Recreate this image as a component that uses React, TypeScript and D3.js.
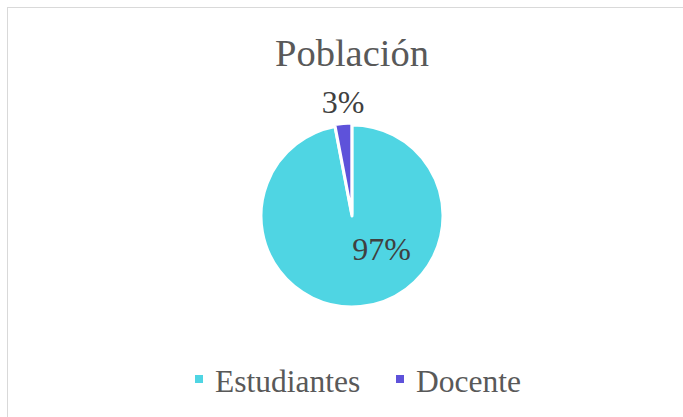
import React from "react";
import * as d3 from "d3";

const categories = ["Estudiantes", "Docente"];
const values = [97, 3];
const labels = ["97%", "3%"];
const colors = ["#4FD5E3", "#5E52DA"];

const W = 683;
const H = 417;

export default function App() {
  const cx = 352;
  const cy = 216;
  const r = 91;
  const pie = d3.pie<number>().sort(null).value((d) => d)(values);
  const arc = d3.arc<d3.PieArcDatum<number>>().innerRadius(0).outerRadius(r);
  const explode = [0, 2];
  const labelPos = [
    [29.5, 44],
    [-9, -103],
  ];
  const font = "Liberation Serif";
  return (
    <div style={{ position: "absolute", left: 0, top: 0 }}>
      <svg width={W} height={H} fontFamily={font}>
        <rect x={7.5} y={7.5} width={720} height={440} fill="#fff" stroke="#D9D9D9" strokeWidth={1} />
        <text x={cx} y={66} textAnchor="middle" fontFamily={font} fontSize={38.5} fill="#595959">
          Población
        </text>
        <g transform={`translate(${cx},${cy})`}>
          {pie.map((d, i) => {
            const mid = (d.startAngle + d.endAngle) / 2;
            const dx = Math.sin(mid) * explode[i];
            const dy = -Math.cos(mid) * explode[i];
            return (
              <path
                key={i}
                d={arc(d) || ""}
                transform={`translate(${dx},${dy})`}
                fill={colors[i]}
                stroke="#fff"
                strokeWidth={3}
                strokeLinejoin="round"
              />
            );
          })}
          {pie.map((d, i) => (
            <text
              key={"l" + i}
              x={labelPos[i][0]}
              y={labelPos[i][1]}
              textAnchor="middle"
              fontFamily={font}
              fontSize={32}
              fill="#404040"
            >
              {labels[i]}
            </text>
          ))}
        </g>
        <g>
          {categories.map((c, i) => {
            const x0 = i === 0 ? 195 : 396;
            return (
              <g key={c}>
                <rect x={x0} y={375} width={8} height={8} fill={colors[i]} />
                <text x={x0 + 20} y={391.5} fontFamily={font} fontSize={31.5} fill="#595959">
                  {c}
                </text>
              </g>
            );
          })}
        </g>
      </svg>
    </div>
  );
}
